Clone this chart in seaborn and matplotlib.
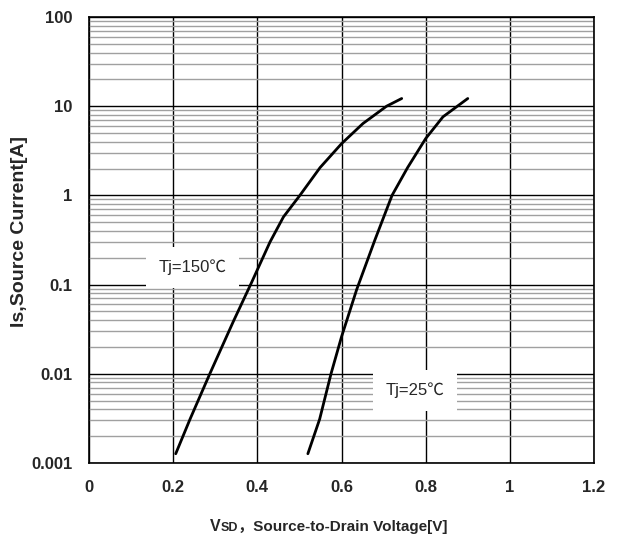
import matplotlib
matplotlib.use('Agg')
import matplotlib.pyplot as plt
import seaborn as sns
from matplotlib.ticker import LogLocator, FixedLocator, NullFormatter

# -----------------------------
# DATA
# -----------------------------

v_150 = [0.206, 0.240, 0.287, 0.343, 0.386, 0.430, 0.462, 0.501, 0.549, 0.600, 0.651, 0.707, 0.743]
i_150 = [0.00127, 0.0031, 0.01, 0.0387, 0.105, 0.300, 0.574, 1.0, 2.05, 3.8, 6.4, 10.0, 12.2]

v_25 = [0.520, 0.548, 0.575, 0.600, 0.636, 0.679, 0.720, 0.757, 0.800, 0.841, 0.900]
i_25 = [0.00127, 0.0031, 0.01, 0.026, 0.088, 0.314, 1.0, 2.05, 4.34, 7.6, 12.2]

x_ticks = [0, 0.2, 0.4, 0.6, 0.8, 1, 1.2]
x_labels = ['0', '0.2', '0.4', '0.6', '0.8', '1', '1.2']
y_ticks = [0.001, 0.01, 0.1, 1, 10, 100]
y_labels = ['0.001', '0.01', '0.1', '1', '10', '100']

# -----------------------------
# STYLE
# -----------------------------

sns.set_style('white')
plt.rcParams['font.family'] = ['Liberation Sans', 'Noto Sans CJK SC', 'DejaVu Sans']

fig = plt.figure(figsize=(6.23, 5.40), dpi=100)
ax = fig.add_axes([0.1429, 0.1426, 0.8106, 0.8259])

# -----------------------------
# CURVES
# -----------------------------

sns.lineplot(x=v_150, y=i_150, sort=False, color='black', linewidth=2, ax=ax, zorder=5)
sns.lineplot(x=v_25, y=i_25, sort=False, color='black', linewidth=2, ax=ax, zorder=5)

ax.set_yscale('log')
ax.set_xlim(0, 1.2)
ax.set_ylim(0.001, 100)

ax.xaxis.set_major_locator(FixedLocator(x_ticks))
ax.set_xticklabels(x_labels)
ax.yaxis.set_major_locator(FixedLocator(y_ticks))
ax.set_yticklabels(y_labels)
ax.yaxis.set_minor_locator(LogLocator(base=10, subs=range(2, 10), numticks=20))
ax.yaxis.set_minor_formatter(NullFormatter())

ax.grid(which='major', axis='both', color='black', linewidth=1.0)
ax.grid(which='minor', axis='y', color='#a0a0a0', linewidth=1.0)
ax.set_axisbelow(True)

ax.tick_params(which='both', length=0)
ax.tick_params(axis='x', pad=12, labelsize=12)
ax.tick_params(axis='y', pad=12, labelsize=12)
for lab in ax.get_xticklabels() + ax.get_yticklabels():
    lab.set_fontweight('bold')

for sp in ax.spines.values():
    sp.set_color('black')
    sp.set_linewidth(1.2)

# -----------------------------
# LABELS
# -----------------------------

fig.text(19.5 / 623, 0.571, 'Is,Source Current[A]', rotation=90, fontsize=14,
         fontweight='bold', ha='center', va='center')

# x label built from pieces so the subscript and the full-width comma both render
t1 = fig.text(210 / 623, 9 / 540, 'V', fontsize=11.5, fontweight='bold',
              ha='left', va='baseline')
t2 = ax.annotate('SD', xy=(1, 0), xycoords=t1, fontsize=9, fontweight='bold',
                 ha='left', va='bottom')
t3 = ax.annotate('\uff0cSource-to-Drain Voltage[V]', xy=(1, 0), xycoords=(t2, t1),
                 fontsize=11, fontweight='bold', ha='left', va='bottom')

box = dict(facecolor='white', edgecolor='none', pad=9)
ax.text(0.247, 0.155, 'Tj=150\u2103', fontsize=12, ha='center', va='center',
        bbox=box, zorder=4)
ax.text(0.774, 0.0065, 'Tj=25\u2103', fontsize=12, ha='center', va='center',
        bbox=box, zorder=4)

fig.savefig('out.png', dpi=100)
plt.close(fig)
